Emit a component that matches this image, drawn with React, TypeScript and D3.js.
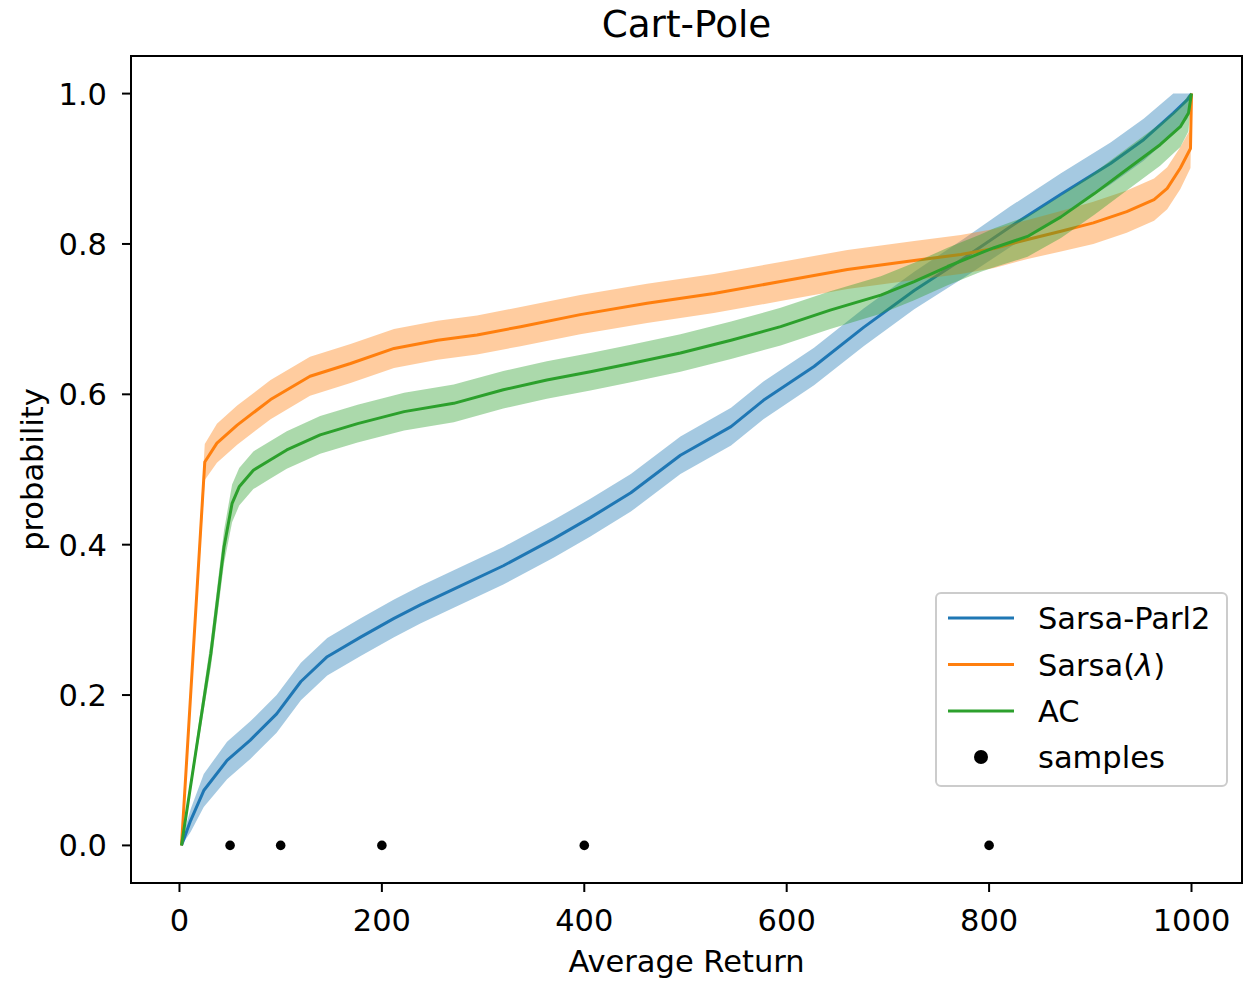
import React from 'react';
import * as d3 from 'd3';

// Sarsa-Parl2 (blue)
const parlReturn = [2, 11, 24, 47, 70, 96, 120, 146, 179, 212, 238, 271, 320, 370, 406, 446, 495, 545, 577, 627, 676, 726, 775, 821, 871, 920, 953, 982, 996, 1000];
const parlProb = [0, 0.033, 0.073, 0.113, 0.14, 0.175, 0.218, 0.251, 0.277, 0.302, 0.32, 0.341, 0.372, 0.408, 0.436, 0.469, 0.519, 0.557, 0.592, 0.637, 0.689, 0.738, 0.781, 0.823, 0.866, 0.907, 0.939, 0.974, 0.992, 1.0];
const parlSpread = [0.006, 0.015, 0.022, 0.025, 0.025, 0.025, 0.025, 0.025, 0.025, 0.025, 0.025, 0.025, 0.025, 0.025, 0.025, 0.025, 0.025, 0.025, 0.025, 0.025, 0.025, 0.025, 0.026, 0.027, 0.028, 0.028, 0.028, 0.028, 0.025, 0];

// Sarsa(lambda) (orange)
const sarsaReturn = [2, 25, 37, 57, 90, 129, 169, 212, 255, 294, 337, 396, 462, 528, 594, 660, 726, 772, 805, 838, 871, 903, 936, 963, 976, 989, 999, 1000];
const sarsaProb = [0, 0.51, 0.535, 0.559, 0.593, 0.624, 0.641, 0.661, 0.672, 0.679, 0.69, 0.706, 0.721, 0.734, 0.75, 0.766, 0.778, 0.786, 0.794, 0.806, 0.817, 0.828, 0.843, 0.859, 0.874, 0.901, 0.927, 1.0];
const sarsaSpread = [0.004, 0.024, 0.026, 0.026, 0.026, 0.026, 0.026, 0.026, 0.026, 0.026, 0.026, 0.026, 0.026, 0.026, 0.026, 0.026, 0.026, 0.026, 0.026, 0.026, 0.027, 0.028, 0.028, 0.028, 0.028, 0.028, 0.026, 0];

// AC (green)
const acReturn = [2, 31, 44, 52, 59, 73, 90, 106, 139, 176, 222, 271, 320, 363, 406, 446, 495, 545, 594, 643, 693, 726, 759, 792, 805, 838, 871, 904, 936, 969, 989, 997, 1000];
const acProb = [0, 0.255, 0.397, 0.455, 0.477, 0.499, 0.513, 0.526, 0.546, 0.561, 0.577, 0.588, 0.606, 0.619, 0.63, 0.641, 0.655, 0.672, 0.69, 0.712, 0.732, 0.75, 0.77, 0.788, 0.795, 0.81, 0.836, 0.867, 0.899, 0.932, 0.956, 0.974, 1.0];
const acSpread = [0.004, 0.018, 0.022, 0.025, 0.025, 0.025, 0.025, 0.025, 0.025, 0.025, 0.025, 0.025, 0.025, 0.025, 0.025, 0.025, 0.025, 0.025, 0.025, 0.025, 0.025, 0.025, 0.025, 0.025, 0.026, 0.027, 0.028, 0.028, 0.028, 0.028, 0.027, 0.024, 0];

const sampleReturns = [50, 100, 200, 400, 800];

const xTicks = [0, 200, 400, 600, 800, 1000];
const yTicks = [0, 0.2, 0.4, 0.6, 0.8, 1.0];

const series = [
  { name: 'Sarsa-Parl2', color: '#1f77b4', xs: parlReturn, ys: parlProb, sp: parlSpread },
  { name: 'Sarsa(λ)', color: '#ff7f0e', xs: sarsaReturn, ys: sarsaProb, sp: sarsaSpread },
  { name: 'AC', color: '#2ca02c', xs: acReturn, ys: acProb, sp: acSpread },
];

const W = 1243;
const H = 982;
const left = 131, right = 1242, top = 56, bottom = 883;
const font = '"DejaVu Sans", sans-serif';
const fs = 30.5;

const x = d3.scaleLinear().domain([-47.9, 1049.9]).range([left, right]);
const y = d3.scaleLinear().domain([-0.05, 1.05]).range([bottom, top]);

type Pt = { x: number; y: number; s: number };

const line = d3.line<Pt>().x(d => x(d.x)).y(d => y(d.y));
const band = d3.area<Pt>()
  .x(d => x(d.x))
  .y0(d => y(Math.max(0, d.y - d.s)))
  .y1(d => y(Math.min(1, d.y + d.s)));

export default function App() {
  return (
    <div style={{ position: 'fixed', left: 0, top: 0 }}>
      <svg width={W} height={H} style={{ display: 'block', background: '#fff' }} fontFamily={font}>
        <defs>
          <clipPath id="plotArea">
            <rect x={left} y={top} width={right - left} height={bottom - top} />
          </clipPath>
        </defs>

        <g clipPath="url(#plotArea)">
          {series.map(s => {
            const pts: Pt[] = s.xs.map((v, i) => ({ x: v, y: s.ys[i], s: s.sp[i] }));
            return (
              <g key={s.name}>
                <path d={band(pts) || ''} fill={s.color} fillOpacity={0.4} stroke="none" />
                <path d={line(pts) || ''} fill="none" stroke={s.color} strokeWidth={3} strokeLinejoin="round" />
              </g>
            );
          })}
          {sampleReturns.map(v => (
            <circle key={v} cx={x(v)} cy={y(0)} r={4.8} fill="#000" />
          ))}
        </g>

        {/* spines */}
        <rect x={left} y={top} width={right - left} height={bottom - top} fill="none" stroke="#000" strokeWidth={2} />

        {/* x axis */}
        {xTicks.map(t => (
          <g key={t}>
            <line x1={x(t)} x2={x(t)} y1={bottom} y2={bottom + 9} stroke="#000" strokeWidth={2} />
            <text x={x(t)} y={931} textAnchor="middle" fontSize={fs} fill="#000">{t}</text>
          </g>
        ))}
        {/* y axis */}
        {yTicks.map(t => (
          <g key={t}>
            <line x1={left - 9} x2={left} y1={y(t)} y2={y(t)} stroke="#000" strokeWidth={2} />
            <text x={107} y={y(t) + 11} textAnchor="end" fontSize={fs} fill="#000">{t.toFixed(1)}</text>
          </g>
        ))}

        <text x={(left + right) / 2} y={972} textAnchor="middle" fontSize={fs} fill="#000">Average Return</text>
        <text transform={`translate(43,${(top + bottom) / 2}) rotate(-90)`} textAnchor="middle" fontSize={fs} fill="#000">probability</text>
        <text x={(left + right) / 2} y={37} textAnchor="middle" fontSize={37.3} fill="#000">Cart-Pole</text>

        {/* legend */}
        <g>
          <rect x={936} y={593} width={291} height={193} rx={5} fill="#fff" fillOpacity={0.8} stroke="#cccccc" strokeWidth={2} />
          {series.map((s, i) => {
            const ly = 618 + i * 46.5;
            return (
              <g key={s.name}>
                <line x1={948} x2={1014} y1={ly} y2={ly} stroke={s.color} strokeWidth={3} />
                {s.name === 'Sarsa(λ)' ? (
                  <text x={1038} y={ly + 11} fontSize={fs} fill="#000">
                    Sarsa(<tspan fontStyle="italic">λ</tspan>)
                  </text>
                ) : (
                  <text x={1038} y={ly + 11} fontSize={fs} fill="#000">{s.name}</text>
                )}
              </g>
            );
          })}
          <circle cx={981} cy={757} r={7} fill="#000" />
          <text x={1038} y={757 + 11} fontSize={fs} fill="#000">samples</text>
        </g>
      </svg>
    </div>
  );
}
